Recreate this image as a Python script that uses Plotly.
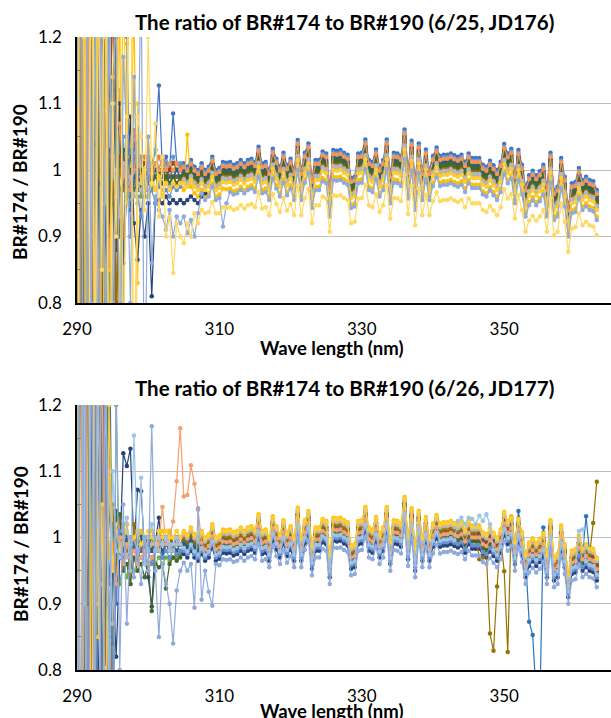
import plotly.graph_objects as go

# ---------------- data ----------------
WAVELENGTH = [
    290.0, 290.5, 291.0, 291.5, 292.0, 292.5, 293.0, 293.5, 294.0, 294.5,
    295.0, 295.5, 296.0, 296.5, 297.0, 297.5, 298.0, 298.5, 299.0, 299.5,
    300.0, 300.5, 301.0, 301.5, 302.0, 302.5, 303.0, 303.5, 304.0, 304.5,
    305.0, 305.5, 306.0, 306.5, 307.0, 307.5, 308.0, 308.5, 309.0, 309.5,
    310.0, 310.5, 311.0, 311.5, 312.0, 312.5, 313.0, 313.5, 314.0, 314.5,
    315.0, 315.5, 316.0, 316.5, 317.0, 317.5, 318.0, 318.5, 319.0, 319.5,
    320.0, 320.5, 321.0, 321.5, 322.0, 322.5, 323.0, 323.5, 324.0, 324.5,
    325.0, 325.5, 326.0, 326.5, 327.0, 327.5, 328.0, 328.5, 329.0, 329.5,
    330.0, 330.5, 331.0, 331.5, 332.0, 332.5, 333.0, 333.5, 334.0, 334.5,
    335.0, 335.5, 336.0, 336.5, 337.0, 337.5, 338.0, 338.5, 339.0, 339.5,
    340.0, 340.5, 341.0, 341.5, 342.0, 342.5, 343.0, 343.5, 344.0, 344.5,
    345.0, 345.5, 346.0, 346.5, 347.0, 347.5, 348.0, 348.5, 349.0, 349.5,
    350.0, 350.5, 351.0, 351.5, 352.0, 352.5, 353.0, 353.5, 354.0, 354.5,
    355.0, 355.5, 356.0, 356.5, 357.0, 357.5, 358.0, 358.5, 359.0, 359.5,
    360.0, 360.5, 361.0, 361.5, 362.0, 362.5, 363.0,
]
N_HEAD = 30  # 290.0 .. 304.5 (noisy part, listed per series)

# common spectral structure of the ratio, 305.0 .. 363.0 (upper edge of band)
BASE_RATIO = [
    1.010, 1.005, 1.015, 1.005, 1.000, 1.010, 1.000, 1.005, 1.020, 1.000,
    1.003, 1.012, 1.011, 1.012, 1.008, 1.010, 1.015, 1.010, 1.015, 1.017,
    1.012, 1.035, 1.010, 1.012, 1.000, 1.032, 1.017, 1.005, 1.026, 1.007,
    1.017, 1.000, 1.045, 1.000, 1.026, 1.040, 0.988, 1.015, 1.015, 1.028,
    1.025, 0.975, 1.030, 1.029, 1.030, 1.026, 1.023, 0.988, 0.990, 1.025,
    1.026, 1.046, 1.015, 1.012, 1.031, 1.005, 1.015, 1.046, 0.995, 1.026,
    1.025, 1.021, 1.061, 1.002, 1.044, 0.985, 1.040, 1.000, 1.031, 1.000,
    1.021, 1.034, 1.021, 1.023, 1.023, 1.025, 1.022, 1.020, 1.023, 1.012,
    1.025, 1.018, 1.018, 1.018, 1.008, 1.005, 1.014, 1.007, 1.000, 1.012,
    1.039, 1.025, 1.032, 0.995, 1.030, 1.008, 0.975, 0.992, 0.999, 0.992,
    0.998, 1.008, 0.975, 1.026, 0.970, 0.975, 1.018, 0.990, 0.945, 0.980,
    0.982, 1.003, 0.985, 0.990, 0.985, 0.983, 0.970,
]

TOP_COLORS = ["#4472C4", "#ED7D31", "#A5A5A5", "#FFC000", "#5B9BD5", "#70AD47",
              "#264478", "#9E480E", "#636363", "#997300", "#255E91", "#43682B",
              "#698ED0", "#F1975A", "#B7B7B7", "#FFCD33", "#8FAADC", "#FFD966"]
BOTTOM_COLORS = ["#4472C4", "#ED7D31", "#A5A5A5", "#FFC000", "#2E75B6", "#70AD47",
                 "#264478", "#9E480E", "#636363", "#997300", "#255E91", "#43682B",
                 "#698ED0", "#F4A070", "#B7B7B7", "#FFCD33", "#9DC3E6", "#8FAADC"]

TOP_OFFSET = [0.000, -0.008, -0.014, -0.040, -0.004, -0.016, -0.020, -0.010, -0.018,
              -0.022, -0.012, -0.015, -0.026, -0.006, -0.024, -0.030, -0.045, -0.068]
BOTTOM_OFFSET = [-0.014, -0.008, -0.004, 0.000, -0.010, -0.022, -0.035, -0.012, -0.016,
                 -0.010, -0.020, -0.024, -0.030, -0.018, -0.006, -0.002, -0.026, -0.045]

TOP_HEAD = [
    [2.8, -0.9, 2.2, -0.4, 1.8, 0.3, 1.5, 0.55, 1.25, 0.75,
     1.14, 0.9, 1.06, 0.97, 1.02, 0.96, 1.04, 0.99, 1.02, 0.97,
     1.0, 1.01, 1.03, 1.127, 1.0, 1.02, 1.0, 1.085, 1.01, 1.0],
    [-1.5, 3.0, -0.8, 1.15, 2.1, -0.3, 0.93, 1.7, 0.4, 1.4,
     0.6, 1.09, 1.25, 0.88, 1.03, 0.98, 1.06, 1.0, 0.99, 1.02,
     1.01, 0.99, 1.0, 1.02, 1.0, 1.01, 0.99, 1.0, 1.01, 1.005],
    [1.9, -1.1, 2.6, 0.2, -0.5, 1.8, 0.86, 1.35, 0.65, 1.3,
     0.95, 0.82, 1.12, 0.98, 1.01, 0.97, 1.0, 1.02, 0.99, 1.0,
     1.01, 0.98, 1.0, 1.0, 0.99, 1.01, 1.0, 0.99, 1.0, 1.0],
    [0.6, 1.18, -0.7, 2.5, 0.1, 1.9, 0.3, 1.6, 0.81, 1.11,
     1.5, 0.6, 1.3, 0.7, 1.19, 0.99, 1.25, 0.83, 1.0, 0.96,
     1.05, 0.99, 0.97, 1.0, 0.98, 1.0, 0.97, 0.99, 0.98, 0.98],
    [2.2, -1.4, 1.6, 0.1, 2.0, -0.2, 1.4, 0.8, 1.22, 0.7,
     1.06, 1.2, 0.9, 1.05, 0.95, 1.03, 0.98, 1.04, 1.0, 0.98,
     1.02, 1.0, 1.03, 1.0, 1.02, 1.01, 1.0, 1.02, 1.0, 1.01],
    [-0.8, 2.4, 1.04, -0.2, 1.7, 0.4, 1.35, 0.92, 0.55, 1.4,
     0.98, 1.05, 0.8, 1.02, 0.96, 1.0, 0.97, 0.99, 0.96, 0.98,
     0.99, 0.97, 0.99, 0.98, 1.0, 0.98, 0.99, 0.98, 0.99, 0.99],
    [1.7, 0.2, 2.3, -0.6, 1.4, 0.6, 0.98, 1.6, 0.3, 1.3,
     0.95, 0.88, 1.1, 0.86, 0.97, 1.08, 0.92, 0.865, 0.94, 0.9,
     0.95, 0.81, 0.95, 0.955, 0.95, 0.96, 0.95, 0.955, 0.95, 0.955],
    [-2.0, 1.6, 0.4, 2.0, 0.99, -0.1, 1.5, 0.7, 1.08, 0.9,
     1.3, 0.75, 1.02, 0.97, 1.01, 0.99, 1.02, 0.98, 1.0, 1.01,
     0.99, 1.0, 1.01, 1.0, 1.0, 0.99, 1.0, 1.01, 1.0, 1.0],
    [1.3, -0.5, 1.9, 0.5, 1.25, 0.3, 1.7, 0.85, 1.0, 1.03,
     0.7, 1.2, 0.96, 1.0, 0.99, 1.02, 0.98, 1.0, 1.0, 0.99,
     0.98, 1.0, 0.99, 1.0, 0.99, 1.0, 0.99, 1.0, 0.99, 1.0],
    [0.4, 2.1, 0.9, -0.3, 1.6, 0.82, 1.0, 1.5, 0.2, 1.15,
     1.02, 0.8, 1.0, 0.97, 0.98, 0.96, 0.99, 0.97, 0.98, 0.985,
     0.97, 0.98, 0.99, 0.975, 0.98, 0.985, 0.98, 0.99, 0.98, 0.985],
    [2.5, 0.3, -0.7, 1.9, 0.1, 1.6, 0.6, 1.3, 0.9, 0.76,
     1.12, 0.95, 1.06, 0.99, 1.01, 0.94, 0.99, 1.0, 0.97, 1.0,
     0.98, 0.99, 1.0, 0.98, 0.99, 1.0, 0.98, 0.99, 1.0, 0.99],
    [-1.0, 1.8, 0.7, 2.2, 0.3, 1.04, 1.5, 0.5, 1.35, 0.92,
     1.05, 0.98, 0.9, 1.03, 0.99, 1.0, 0.97, 0.98, 1.0, 0.96,
     0.99, 0.98, 0.99, 1.0, 0.98, 0.99, 0.98, 0.99, 0.98, 0.99],
    [1.5, -0.2, 2.0, 0.45, 1.45, 0.7, 1.1, 2.0, -0.3, 1.6,
     0.6, 1.1, 0.95, 0.76, 1.2, 0.9, 1.02, 0.96, 0.93, 0.99,
     0.96, 0.97, 0.95, 0.98, 0.96, 0.97, 0.96, 0.975, 0.97, 0.975],
    [0.9, 2.6, -1.2, 1.4, 0.6, 1.7, 0.2, 1.09, 1.3, 0.85,
     1.02, 0.96, 1.07, 0.99, 1.02, 0.97, 1.0, 1.03, 0.99, 1.0,
     1.02, 0.98, 1.01, 1.0, 1.02, 1.0, 1.01, 1.0, 1.01, 1.0],
    [-0.6, 1.5, 2.4, 0.3, 0.9, 1.8, 0.5, 1.2, 0.95, 1.4,
     0.8, 1.0, 0.93, 1.01, 0.97, 0.99, 0.96, 0.98, 0.97, 0.99,
     0.97, 0.98, 0.97, 0.985, 0.97, 0.98, 0.975, 0.98, 0.975, 0.98],
    [2.0, -0.4, 1.7, 0.2, 1.45, 0.6, 1.9, 0.4, 1.2, 0.7,
     1.14, 1.25, 0.75, 1.3, 0.95, 1.6, 0.5, 1.1, 0.98, 1.0,
     0.96, 0.98, 0.97, 0.99, 0.96, 0.98, 0.97, 0.98, 0.975, 0.98],
    [1.1, 2.3, -0.5, 1.7, 0.8, 1.4, 0.25, 1.6, 0.7, 1.2,
     0.99, 1.35, 0.6, 1.17, 1.05, 0.8, 1.14, 0.95, 1.3, 0.6,
     1.05, 0.86, 0.96, 0.94, 0.93, 0.91, 0.94, 0.9, 0.93, 0.92],
    [0.3, 1.9, 1.2, -0.4, 2.2, 0.6, 1.3, 0.85, 1.6, 0.4,
     1.1, 0.9, 1.4, 0.7, 1.08, 1.9, -0.2, 1.08, 1.05, 0.94,
     1.2, 0.98, 1.07, 0.93, 1.02, 0.9, 0.93, 0.845, 0.92, 0.9],
]

BOTTOM_HEAD = [
    [2.5, -0.8, 1.9, 0.2, 1.6, 0.5, 1.3, 0.8, 1.12, 0.93,
     1.04, 0.9, 1.0, 0.96, 1.02, 0.97, 1.0, 0.98, 1.01, 0.99,
     1.0, 0.98, 1.0, 1.01, 0.99, 1.0, 1.01, 0.99, 1.0, 1.0],
    [1.2, -1.4, 2.7, 0.4, 1.8, -0.2, 1.45, 0.82, 1.1, 0.65,
     1.0, 0.95, 1.03, 0.98, 1.0, 0.97, 0.99, 1.01, 0.98, 1.0,
     0.99, 1.0, 0.98, 1.0, 0.99, 1.0, 0.99, 1.0, 0.99, 1.0],
    [-0.9, 2.0, 0.5, 1.7, 0.95, 0.3, 1.4, 0.9, 0.6, 1.2,
     1.0, 0.99, 0.97, 1.02, 0.99, 1.0, 0.98, 1.0, 1.01, 0.99,
     1.0, 1.01, 0.99, 1.0, 1.0, 0.99, 1.01, 1.0, 0.99, 1.0],
    [1.1, 2.4, -0.6, 1.5, 1.02, 0.3, 1.7, 0.7, 1.3, 0.97,
     1.04, 0.96, 1.0, 0.99, 1.02, 0.98, 1.0, 0.99, 1.01, 1.0,
     1.0, 1.01, 1.0, 0.99, 1.01, 1.0, 1.01, 1.0, 1.01, 1.0],
    [0.5, 2.1, 0.2, 1.6, 0.6, 1.096, 1.057, 0.7, 1.4, 0.85,
     1.02, 0.97, 1.01, 0.98, 1.0, 0.96, 1.0, 0.98, 1.0, 0.99,
     0.98, 1.0, 0.99, 0.98, 1.0, 0.99, 1.0, 0.98, 0.99, 1.0],
    [2.2, -0.3, 1.6, 0.2, 1.3, 0.7, 1.05, 2.0, -0.5, 1.6,
     0.55, 1.2, 0.93, 0.96, 0.94, 0.97, 0.95, 0.96, 0.97, 0.96,
     0.95, 0.97, 0.96, 0.97, 0.96, 0.97, 0.965, 0.97, 0.97, 0.975],
    [-0.5, 1.8, 0.4, 2.2, 0.1, 1.5, 0.7, 1.25, 0.86, 1.05,
     0.95, 0.82, 0.97, 1.127, 1.108, 1.134, 0.98, 1.072, 1.07, 0.98,
     0.94, 0.896, 0.99, 1.03, 0.97, 0.99, 0.98, 0.99, 0.975, 0.98],
    [1.9, 0.4, -1.0, 2.3, 0.6, 1.4, 0.2, 1.2, 0.82, 1.06,
     0.97, 1.0, 0.99, 1.01, 0.98, 1.0, 0.99, 1.0, 0.98, 1.0,
     0.99, 1.0, 0.98, 0.99, 1.0, 0.99, 1.0, 0.99, 1.0, 0.99],
    [0.2, 1.6, 2.3, -0.4, 1.4, 0.5, 1.8, 0.75, 1.15, 0.88,
     0.84, 1.0, 0.97, 1.01, 0.99, 0.98, 1.0, 0.99, 1.0, 0.98,
     1.0, 0.99, 0.98, 1.0, 0.99, 1.0, 0.99, 0.98, 1.0, 0.99],
    [1.5, 2.2, 1.16, 0.9, 1.22, 1.165, 0.3, 1.7, 0.81, 1.06,
     1.05, 0.96, 0.99, 0.955, 1.0, 0.93, 1.02, 0.96, 0.99, 0.97,
     1.0, 0.98, 0.99, 0.98, 0.99, 1.0, 0.98, 0.99, 0.98, 0.99],
    [2.8, 0.1, 1.7, -0.2, 1.3, 0.6, 1.02, 1.6, 0.4, 1.2,
     0.9, 1.04, 0.98, 0.96, 1.0, 0.97, 0.99, 0.98, 1.0, 0.97,
     0.99, 0.98, 1.0, 0.99, 0.98, 0.99, 0.98, 0.99, 0.98, 0.99],
    [-1.2, 1.9, 0.6, 1.4, 0.2, 2.0, 0.85, 1.1, 0.5, 1.5,
     0.7, 1.03, 1.035, 0.95, 0.96, 0.93, 0.97, 0.95, 0.96, 0.94,
     0.96, 0.889, 0.96, 0.955, 0.96, 0.923, 0.96, 0.97, 0.965, 0.97],
    [1.4, -0.6, 2.1, 0.6, 1.2, 1.8, 0.2, 1.5, 0.6, 1.3,
     0.75, 0.93, 1.01, 0.96, 0.99, 0.97, 1.0, 0.96, 0.99, 0.97,
     0.98, 0.96, 0.99, 0.98, 0.97, 0.98, 0.97, 0.98, 0.975, 0.98],
    [0.8, 1.9, -0.3, 1.6, 0.55, 1.4, 0.9, 1.3, 0.6, 1.1,
     0.97, 0.93, 1.0, 0.96, 0.99, 0.97, 0.98, 0.96, 0.97, 0.98,
     0.96, 0.97, 0.98, 0.99, 1.046, 0.99, 1.0, 1.024, 1.085, 1.165],
    [2.0, 0.3, 1.5, -0.5, 1.9, 0.7, 1.2, 0.93, 0.7, 1.1,
     0.87, 1.01, 0.98, 1.0, 0.97, 0.99, 1.0, 0.98, 0.99, 1.0,
     0.98, 0.99, 1.0, 0.98, 0.99, 1.0, 0.99, 0.98, 0.99, 1.0],
    [1.7, -0.7, 1.3, 2.4, 0.4, 1.6, 0.85, 1.05, 0.6, 1.2,
     0.95, 1.02, 0.98, 1.0, 1.01, 0.99, 1.0, 1.01, 0.99, 1.0,
     1.01, 1.0, 0.99, 1.01, 1.0, 1.01, 1.0, 1.0, 1.01, 1.0],
    [0.4, 1.8, 0.9, 2.2, -0.4, 1.5, 1.02, 0.5, 1.3, 0.75,
     1.1, 0.98, 0.97, 1.01, 1.03, 0.95, 1.154, 0.98, 1.09, 0.96,
     1.0, 1.02, 0.98, 1.0, 0.99, 1.0, 0.98, 0.99, 1.0, 0.99],
    [2.3, -1.1, 1.7, 0.3, 1.4, 0.6, 2.0, 0.2, 1.3, 0.9,
     0.5, 1.25, 0.8, 1.05, 0.87, 1.0, 0.94, 0.98, 0.93, 1.0,
     0.95, 1.168, 0.95, 0.85, 0.96, 0.93, 0.9, 0.84, 0.92, 0.95],
]

# individual readings that depart from the band (series index -> {wavelength: ratio})
TOP_OVERRIDES = {
    3: {305.5: 1.053},
    6: {305.0: 0.95, 305.5: 0.955, 306.0: 0.96, 306.5: 0.955, 307.0: 0.95, 307.5: 0.96, 308.0: 0.965},
    16: {305.0: 0.93, 305.5: 0.905, 306.0: 0.925, 306.5: 0.9, 307.0: 0.935, 310.5: 0.915, 311.0: 0.95},
    17: {305.0: 0.89, 305.5: 0.92, 306.0: 0.9, 306.5: 0.935, 307.0: 0.92, 307.5: 0.94, 308.0: 0.935,
         309.5: 0.935},
}
BOTTOM_OVERRIDES = {
    4: {352.0: 1.04, 353.0: 0.97, 353.5: 0.873, 354.0: 0.853, 354.5: 0.76, 355.0: 0.74, 355.5: 1.015,
        361.5: 1.032},
    9: {346.5: 0.967, 347.0: 0.97, 347.5: 0.975, 348.0: 0.855, 348.5: 0.829, 349.0: 0.926, 349.5: 1.0,
        350.0: 0.949, 350.5: 0.827, 351.0: 1.03, 362.5: 1.022, 363.0: 1.084},
    13: {305.0: 1.062, 305.5: 1.064, 306.0: 1.109, 306.5: 1.081, 307.0: 1.042},
    16: {343.5: 1.025, 344.0: 1.03, 344.5: 1.02, 345.0: 1.03, 345.5: 1.028, 346.0: 1.02, 346.5: 1.033,
         347.0: 1.025, 347.5: 1.035, 348.0: 1.02, 360.5: 1.01, 361.0: 1.012},
    17: {305.0: 0.962, 305.5: 0.95, 306.0: 0.96, 306.5: 0.894, 307.0: 1.044, 307.5: 0.906, 308.0: 0.95,
         308.5: 0.918, 309.0: 0.897, 309.5: 0.96},
}

TITLES = ["The ratio of BR#174 to BR#190 (6/25, JD176)",
          "The ratio of BR#174 to BR#190 (6/26, JD177)"]
X_TITLE = "Wave length (nm)"
Y_TITLE = "BR#174 / BR#190"
X_TICKS = [290, 310, 330, 350]
Y_TICKS = [0.8, 0.9, 1.0, 1.1, 1.2]


def build_series(head, offset, overrides):
    vals = list(head) + [b + offset for b in BASE_RATIO]
    for w, v in overrides.items():
        idx = WAVELENGTH.index(w)
        vals[idx] = v
    return vals


# ---------------- figure ----------------
W, H = 611, 718
ML, MR, MT, MB = 77, 0, 37, 48
PH = H - MT - MB
TOP_DOMAIN = [(670 - 303) / PH, 1.0]
BOT_DOMAIN = [0.0, (670 - 405) / PH]

fig = go.Figure()

panels = [
    ("x", "y", TOP_HEAD, TOP_OFFSET, TOP_OVERRIDES, TOP_COLORS),
    ("x2", "y2", BOTTOM_HEAD, BOTTOM_OFFSET, BOTTOM_OVERRIDES, BOTTOM_COLORS),
]
for xa, ya, heads, offsets, overrides, colors in panels:
    for i, head in enumerate(heads):
        assert len(head) == N_HEAD
        y = build_series(head, offsets[i], overrides.get(i, {}))
        fig.add_trace(go.Scatter(
            x=WAVELENGTH, y=y, xaxis=xa, yaxis=ya,
            mode="lines+markers",
            line=dict(color=colors[i], width=1.2),
            marker=dict(color=colors[i], size=4.5),
            showlegend=False, hoverinfo="skip",
        ))

FONT = "Lato, 'Open Sans', sans-serif"
axis_x = dict(range=[290, 365], tickvals=X_TICKS, showgrid=False, zeroline=False,
              showline=True, linecolor="#000000", linewidth=1.5, ticks="",
              tickfont=dict(family=FONT, size=17, color="#000000"), ticklabelstandoff=10)
axis_y = dict(range=[0.8, 1.2], tickvals=Y_TICKS, ticktext=["0.8", "0.9", "1", "1.1", "1.2"],
              showgrid=True, gridcolor="#BFBFBF", gridwidth=1, zeroline=False,
              showline=True, linecolor="#000000", linewidth=1.5, ticks="",
              tickfont=dict(family=FONT, size=17, color="#000000"), ticklabelstandoff=10,
              minor=dict(tickvals=[0.85, 0.95, 1.05, 1.15], ticks="inside", ticklen=4,
                         tickcolor="#7F7F7F", showgrid=False))

fig.update_layout(
    width=W, height=H,
    margin=dict(l=ML, r=MR, t=MT, b=MB),
    paper_bgcolor="#FFFFFF", plot_bgcolor="#FFFFFF",
    font=dict(family=FONT, color="#000000"),
    xaxis=dict(axis_x, anchor="y"),
    yaxis=dict(axis_y, domain=TOP_DOMAIN, anchor="x"),
    xaxis2=dict(axis_x, anchor="y2"),
    yaxis2=dict(axis_y, domain=BOT_DOMAIN, anchor="x2"),
)

PW = W - ML - MR


def px_to_paper_x(px):
    return (px - ML) / PW


def px_to_paper_y(py):
    return (H - MB - py) / PH


anns = []
for title, ty in zip(TITLES, [22, 388]):
    anns.append(dict(text="<b>%s</b>" % title, x=px_to_paper_x(344.5), y=px_to_paper_y(ty),
                     xref="paper", yref="paper", showarrow=False, xanchor="center", yanchor="middle",
                     font=dict(family=FONT, size=20.5, color="#000000")))
for ty in [348, 711]:
    anns.append(dict(text="<b>%s</b>" % X_TITLE, x=px_to_paper_x(331.5), y=px_to_paper_y(ty),
                     xref="paper", yref="paper", showarrow=False, xanchor="center", yanchor="middle",
                     font=dict(family=FONT, size=18.5, color="#000000")))
for ty in [182, 544]:
    anns.append(dict(text="<b>%s</b>" % Y_TITLE, x=px_to_paper_x(20), y=px_to_paper_y(ty),
                     xref="paper", yref="paper", showarrow=False, xanchor="center", yanchor="middle",
                     textangle=-90, font=dict(family=FONT, size=19, color="#000000")))
fig.update_layout(annotations=anns)

fig.write_html("out.html", config={"displayModeBar": False},
               post_script="document.body.style.margin='0';document.body.style.overflow='hidden';")
